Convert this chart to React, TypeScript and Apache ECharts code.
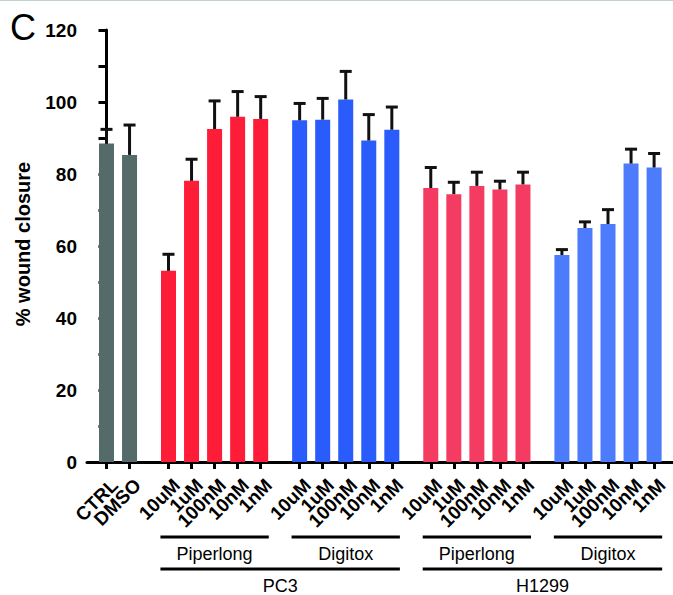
import React, { useEffect, useRef } from "react";
import * as echarts from "echarts";

// ---- data ----
const controlLabels = ["CTRL", "DMSO"];
const doseLabels = ["10uM", "1uM", "100nM", "10nM", "1nM"];
const controlMeans = [88.5, 85.3];
const controlErr = [3.9, 8.3];
const pc3PiperMeans = [53.1, 78.1, 92.5, 95.9, 95.3];
const pc3PiperErr = [4.6, 6.0, 7.8, 7.0, 6.2];
const pc3DigiMeans = [94.9, 95.1, 100.7, 89.3, 92.3];
const pc3DigiErr = [4.7, 5.9, 7.8, 7.2, 6.3];
const h1299PiperMeans = [76.1, 74.4, 76.7, 75.7, 77.1];
const h1299PiperErr = [5.7, 3.3, 3.8, 2.3, 3.4];
const h1299DigiMeans = [57.5, 65.0, 66.1, 82.9, 81.8];
const h1299DigiErr = [1.5, 1.7, 4.0, 4.0, 3.9];
const drugNames = ["Piperlong", "Digitox", "Piperlong", "Digitox"];
const cellLines = ["PC3", "H1299"];
const yTicks = [0, 20, 40, 60, 80, 100, 120];

// ---- style / layout ----
const COLORS = ["#546B6A", "#FE1D38", "#2A5CFC", "#F43C62", "#4C7BFB"];
const GAP = 1.69; // centre-to-centre distance between groups, in bar slots
const FONT = "'Liberation Sans', Arial, Helvetica, sans-serif";

export default function App() {
  const ref = useRef<HTMLDivElement>(null);
  useEffect(() => {
    if (!ref.current) return;
    const chart = echarts.init(ref.current, null, { renderer: "svg" });

    const groups = [
      { means: controlMeans, err: controlErr, labels: controlLabels },
      { means: pc3PiperMeans, err: pc3PiperErr, labels: doseLabels },
      { means: pc3DigiMeans, err: pc3DigiErr, labels: doseLabels },
      { means: h1299PiperMeans, err: h1299PiperErr, labels: doseLabels },
      { means: h1299DigiMeans, err: h1299DigiErr, labels: doseLabels },
    ];
    const positions: number[] = [];
    const labels: string[] = [];
    const barData: any[] = [];
    const errData: number[][] = [];
    const groupRanges: number[][] = [];
    let cursor = 0;
    groups.forEach((g, gi) => {
      if (gi > 0) cursor += GAP - 1;
      const start = cursor;
      g.means.forEach((m, i) => {
        positions.push(cursor);
        labels.push(g.labels[i]);
        barData.push({ value: [cursor, m], itemStyle: { color: COLORS[gi] } });
        errData.push([cursor, m, g.err[i]]);
        cursor += 1;
      });
      groupRanges.push([start, cursor - 1]);
    });

    const bracketData: any[] = [];
    for (let k = 1; k <= 4; k++) {
      bracketData.push([groupRanges[k][0], groupRanges[k][1], 0, 1, k - 1]);
    }
    bracketData.push([groupRanges[1][0], groupRanges[2][1], 0, 2, 0]);
    bracketData.push([groupRanges[3][0], groupRanges[4][1], 0, 2, 1]);

    const labelData = positions.map((p) => [p, 0]);

    chart.setOption({
      animation: false,
      grid: { left: 87, right: 0, top: 30, bottom: 133, containLabel: false },
      xAxis: {
        type: "value",
        min: -0.846,
        max: 24.58,
        splitLine: { show: false },
        axisLine: { show: true, lineStyle: { color: "#000", width: 3 } },
        axisTick: {
          show: true,
          customValues: positions,
          length: 7,
          lineStyle: { color: "#000", width: 3 },
        },
        axisLabel: { show: false },
      },
      yAxis: {
        type: "value",
        min: 0,
        max: 120,
        interval: 10,
        splitLine: { show: false },
        axisLine: { show: true, lineStyle: { color: "#000", width: 3 } },
        axisTick: { show: true, length: 8, lineStyle: { color: "#000", width: 3 } },
        axisLabel: {
          formatter: (v: number) => (yTicks.includes(v) ? String(v) : ""),
          margin: 10,
          color: "#000",
          fontWeight: "bold",
          fontSize: 19,
          fontFamily: FONT,
        },
      },
      graphic: [
        {
          type: "line",
          shape: { x1: 0, y1: 0.5, x2: 673, y2: 0.5 },
          style: { stroke: "#C2D0CC", lineWidth: 1 },
          silent: true,
        },
        {
          type: "text",
          x: 10,
          y: 27,
          style: {
            text: "C",
            fontSize: 36,
            fontFamily: FONT,
            fill: "#000",
            verticalAlign: "middle",
            align: "left",
          },
        },
        {
          type: "text",
          x: 23,
          y: 244,
          rotation: Math.PI / 2,
          style: {
            text: "% wound closure",
            fontSize: 20,
            fontWeight: "bold",
            fontFamily: FONT,
            fill: "#000",
            align: "center",
            verticalAlign: "middle",
          },
        },
      ],
      series: [
        {
          type: "bar",
          data: barData,
          barWidth: 15,
          z: 2,
        },
        {
          type: "custom",
          z: 3,
          data: errData,
          encode: { x: 0, y: 1 },
          renderItem: (params: any, api: any) => {
            const x = api.value(0);
            const m = api.value(1);
            const e = api.value(2);
            const p0 = api.coord([x, m]);
            const p1 = api.coord([x, m + e]);
            const st = { stroke: "#111", lineWidth: 3 };
            return {
              type: "group",
              children: [
                { type: "line", shape: { x1: p0[0], y1: p0[1], x2: p1[0], y2: p1[1] }, style: st },
                { type: "line", shape: { x1: p1[0] - 6, y1: p1[1], x2: p1[0] + 6, y2: p1[1] }, style: st },
              ],
            };
          },
        },
        {
          type: "custom",
          z: 3,
          clip: false,
          data: labelData,
          encode: { x: 0, y: 1 },
          renderItem: (params: any, api: any) => {
            const p = api.coord([api.value(0), 0]);
            return {
              type: "text",
              x: p[0] + 8,
              y: p[1] + 20,
              rotation: Math.PI / 4,
              style: {
                text: labels[params.dataIndex],
                x: 0,
                y: 0,
                align: "right",
                verticalAlign: "middle",
                fontSize: 19,
                fontWeight: "bold",
                fontFamily: FONT,
                fill: "#000",
              },
            };
          },
        },
        {
          type: "custom",
          z: 3,
          clip: false,
          data: bracketData,
          encode: { x: [0, 1], y: 2 },
          renderItem: (params: any, api: any) => {
            const s = api.value(0);
            const e = api.value(1);
            const level = api.value(3);
            const li = api.value(4);
            const a = api.coord([s - 0.35, 0]);
            const b = api.coord([e + 0.35, 0]);
            const y0 = a[1];
            const lineY = y0 + (level === 1 ? 75 : 107);
            const textY = y0 + (level === 1 ? 92 : 124);
            const text = level === 1 ? drugNames[li] : cellLines[li];
            return {
              type: "group",
              children: [
                {
                  type: "line",
                  shape: { x1: a[0], y1: lineY, x2: b[0], y2: lineY },
                  style: { stroke: "#000", lineWidth: 3 },
                },
                {
                  type: "text",
                  style: {
                    text,
                    x: (a[0] + b[0]) / 2,
                    y: textY,
                    align: "center",
                    verticalAlign: "middle",
                    fontSize: 18,
                    fontFamily: FONT,
                    fill: "#000",
                  },
                },
              ],
            };
          },
        },
      ],
    });
    return () => chart.dispose();
  }, []);
  return (
    <div
      ref={ref}
      style={{ position: "fixed", left: 0, top: 0, width: 673, height: 595, background: "#fff" }}
    />
  );
}
